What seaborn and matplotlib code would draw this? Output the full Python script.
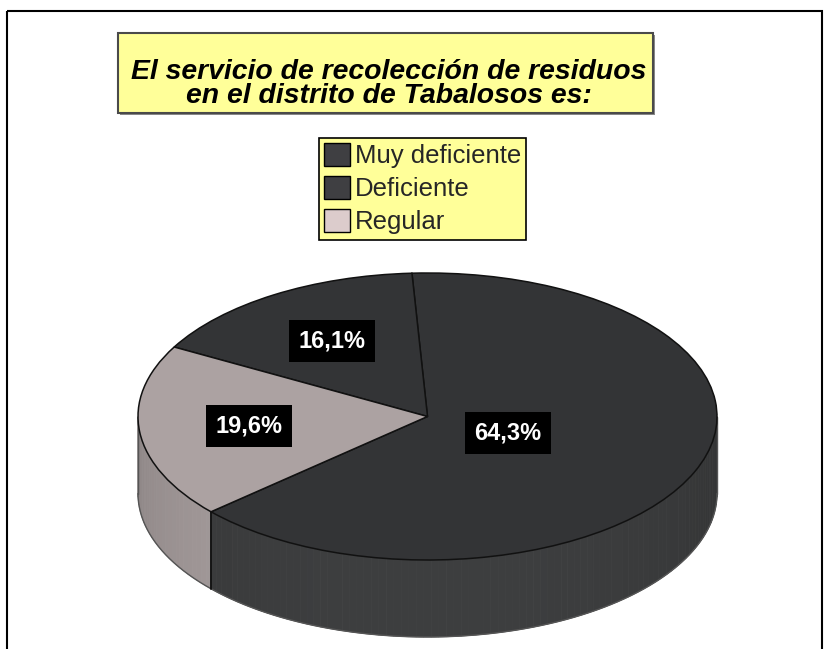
import numpy as np
import matplotlib
matplotlib.use('Agg')
import matplotlib.pyplot as plt
from matplotlib.patches import Patch, Rectangle, Polygon
from matplotlib.colors import to_rgb
import seaborn as sns

# data
categories = ['Muy deficiente', 'Deficiente', 'Regular']
shares = [64.3, 16.1, 19.6]
labels = ['64,3%', '16,1%', '19,6%']
title = 'El servicio de recolección de residuos\nen el distrito de Tabalosos es:'

top_colors = ['#333436', '#333436', '#aca2a2']
side_colors = ['#3b3c3d', '#3b3c3d', '#a39a9a']
legend_colors = ['#3f3f42', '#3f3f42', '#dccccc']

sns.set_theme(style='white')
plt.rcParams['font.family'] = ['Liberation Sans', 'DejaVu Sans']

W, H = 825, 649
fig = plt.figure(figsize=(W / 100, H / 100), dpi=100)
fig.patch.set_facecolor('white')

# top ellipse of the 3d pie in pixels, plus wall depth
cx, cy, rx, ry, depth = 427.5, 416.5, 289.5, 143.5, 77
d = depth / ry
start = 221.6

ax = fig.add_axes([0, 0, 1, 1])
wedges, _ = ax.pie(shares, colors=top_colors, startangle=start, counterclock=True,
                   radius=1, wedgeprops=dict(edgecolor='#111111', linewidth=1.1, zorder=3))
ax.set_aspect('auto')
ax.set_xlim((0 - cx) / rx, (W - cx) / rx)
ax.set_ylim((cy - H) / ry, cy / ry)
ax.axis('off')

# walls of the pie, only the front half shows
bounds = start + 360 * np.concatenate([[0], np.cumsum(shares)]) / 100
for i in range(len(shares)):
    a0, a1 = bounds[i], bounds[i + 1]
    base = np.array(to_rgb(side_colors[i]))
    for k in (0, 360):
        lo, hi = max(a0, 180 + k), min(a1, 360 + k)
        if hi <= lo:
            continue
        edges = np.linspace(lo, hi, int((hi - lo) / 1.5) + 2)
        for t0, t1 in zip(edges[:-1], edges[1:]):
            ts = np.radians(np.linspace(t0, t1, 4))
            xs = np.cos(ts)
            ys = np.sin(ts)
            pts = np.column_stack([np.r_[xs, xs[::-1]], np.r_[ys, ys[::-1] - d]])
            m = 0.86 + 0.18 * (-np.sin(np.radians((t0 + t1) / 2)))
            col = np.clip(base * m, 0, 1)
            ax.add_patch(Polygon(pts, closed=True, fc=col, ec=col, lw=0.6, zorder=1))

# wall outline and the slice break on the wall
tt = np.radians(np.linspace(180, 360, 200))
ax.plot(np.cos(tt), np.sin(tt) - d, color='#555555', lw=1, zorder=2)
ax.plot([-1, -1], [0, -d], color='#555555', lw=1, zorder=2)
ax.plot([1, 1], [0, -d], color='#555555', lw=1, zorder=2)
for b in bounds:
    bb = b % 360
    if 180 < bb < 360:
        x0, y0 = np.cos(np.radians(bb)), np.sin(np.radians(bb))
        ax.plot([x0, x0], [y0, y0 - d], color='#111111', lw=1.1, zorder=2)

# value labels in black boxes
for i, lab in enumerate(labels):
    mid = np.radians((bounds[i] + bounds[i + 1]) / 2)
    r = 0.3 if shares[i] > 50 else 0.62
    ax.text(r * np.cos(mid), r * np.sin(mid), lab, ha='center', va='center',
            color='white', fontsize=17, fontweight='bold',
            family=['Liberation Sans Narrow', 'Liberation Sans'], zorder=5,
            bbox=dict(boxstyle='square,pad=0.4', fc='black', ec='none'))

# overlay in pixel units for frame and title box
ov = fig.add_axes([0, 0, 1, 1], zorder=4)
ov.set_xlim(0, W)
ov.set_ylim(H, 0)
ov.axis('off')
ov.patch.set_alpha(0)
ov.add_patch(Rectangle((7, 11), 815, 700, fill=False, ec='black', lw=1.5))
ov.add_patch(Rectangle((120, 35), 535, 80, fc='#8a8a8a', ec='none'))
ov.add_patch(Rectangle((118, 33), 535, 80, fc='#ffff99', ec='#4a4a4a', lw=1.5))
ov.text(389, 84, title, ha='center', va='center', fontsize=20.4,
        fontweight='bold', fontstyle='italic', linespacing=0.93, color='black')

handles = [Patch(fc=c, ec='black', lw=1) for c in legend_colors]
leg = fig.legend(handles, categories, loc='upper left',
                 bbox_to_anchor=(319 / W, 1 - 138 / H), frameon=True, fancybox=False,
                 edgecolor='black', facecolor='#ffff99', framealpha=1, fontsize=18.5,
                 handlelength=1.0, handleheight=1.0, handletextpad=0.2,
                 borderpad=0.2, labelspacing=0.3, borderaxespad=0)
leg.get_frame().set_linewidth(1.2)
leg.set_zorder(10)

fig.savefig('out.png', dpi=100)
